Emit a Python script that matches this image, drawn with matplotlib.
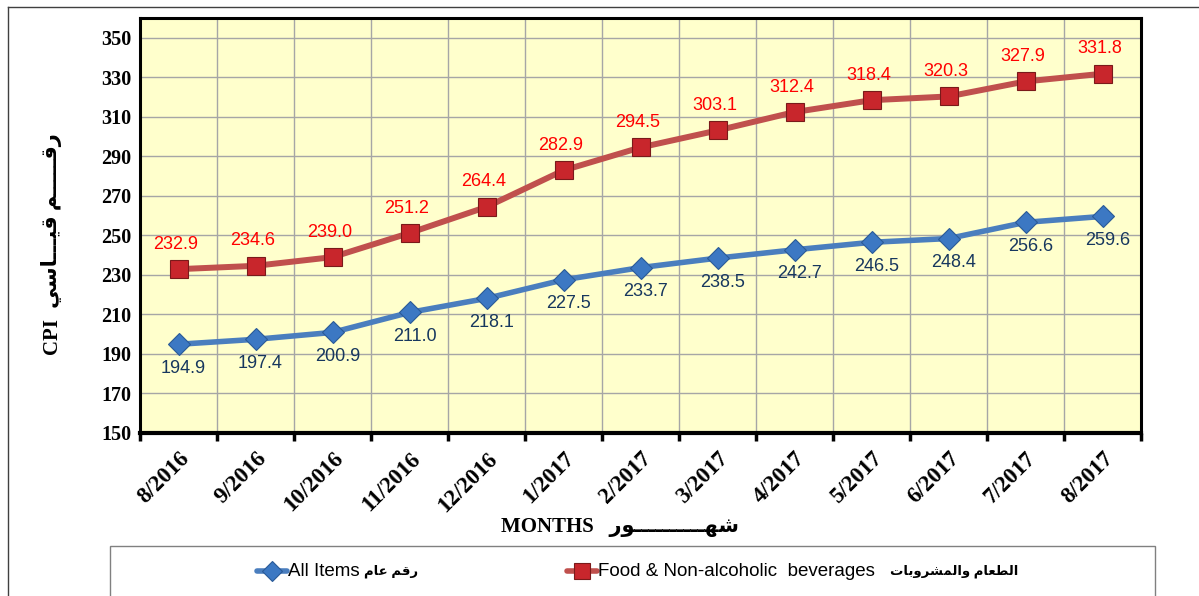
import matplotlib
matplotlib.use("Agg")
import matplotlib.pyplot as plt
from matplotlib.lines import Line2D
from matplotlib.patches import Rectangle
import numpy as np

# --- data ---
months = ["8/2016", "9/2016", "10/2016", "11/2016", "12/2016", "1/2017", "2/2017",
          "3/2017", "4/2017", "5/2017", "6/2017", "7/2017", "8/2017"]
all_items = [194.9, 197.4, 200.9, 211.0, 218.1, 227.5, 233.7, 238.5, 242.7, 246.5, 248.4, 256.6, 259.6]
food = [232.9, 234.6, 239.0, 251.2, 264.4, 282.9, 294.5, 303.1, 312.4, 318.4, 320.3, 327.9, 331.8]
y_ticks = list(range(150, 351, 20))

# Arabic written in presentation forms, visual (left-to-right) order
T = "\u0640"
ar_cpi = ("\uFEF2\uFEB3\uFE8E" + T * 3 + "\uFEF4\uFED7" + " "
          + "\uFEE2" + T * 5 + "\uFED7\uFEAD")                       # رقـــم قيـــاسي
ar_months = "\uFEAD\uFEEE" + T * 10 + "\uFEEC\uFEB7"                  # شهـــور
ar_all = "\uFEE1\uFE8E\uFECB \uFEE2\uFED7\uFEAD"                      # رقم عام
ar_food = ("\uFE95\uFE8E\uFE91\uFEED\uFEAE\uFEB8\uFEE4\uFEDF\uFE8D\uFEED" + " "
           + "\uFEE1\uFE8E\uFECC\uFEC4\uFEDF\uFE8D")                  # الطعام والمشروبات

SERIF = ["Liberation Serif", "DejaVu Sans"]
SANS = ["Liberation Sans", "DejaVu Sans"]

RED_LINE, RED_FACE, RED_EDGE = "#C0504D", "#C8262C", "#7A1A1A"
BLUE_LINE, BLUE_FACE, BLUE_EDGE = "#4A7EBE", "#3C78C3", "#2A5A97"

W, H = 1199, 596
fig = plt.figure(figsize=(W / 100, H / 100), dpi=100)
ax = fig.add_axes([140 / W, 1 - 433 / H, (1141 - 140) / W, (433 - 18) / H])
ax.set_facecolor("#FFFFCC")

x = np.arange(len(months))
ax.plot(x, food, color=RED_LINE, lw=4.3, marker="s", ms=12.5,
        mfc=RED_FACE, mec=RED_EDGE, mew=0.8, zorder=4)
ax.plot(x, all_items, color=BLUE_LINE, lw=4.0, marker="D", ms=11,
        mfc=BLUE_FACE, mec=BLUE_EDGE, mew=0.8, zorder=4)

for xi, v in zip(x, food):
    ax.annotate(f"{v:.1f}", (xi, v), xytext=(-3, 25), textcoords="offset pixels",
                ha="center", va="center", color="#FF0000", fontsize=13, family=SANS, zorder=5)
for xi, v in zip(x, all_items):
    ax.annotate(f"{v:.1f}", (xi, v), xytext=(5, -24), textcoords="offset pixels",
                ha="center", va="center", color="#17375E", fontsize=13, family=SANS, zorder=5)

ax.set_xlim(-0.5, len(months) - 0.5)
ax.set_ylim(150, 360)
ax.set_yticks(y_ticks)
ax.set_yticklabels([str(t) for t in y_ticks], family=SERIF, fontweight="bold", fontsize=14.5)
ax.tick_params(axis="y", length=0, pad=6)

ax.set_xticks(x)
ax.set_xticklabels(months, rotation=45, ha="right", rotation_mode="anchor",
                   family=SERIF, fontweight="bold", fontsize=16.5)
ax.tick_params(axis="x", which="major", length=0, pad=11)
ax.set_xticks(np.arange(-0.5, len(months), 1), minor=True)
ax.tick_params(axis="x", which="minor", length=6, width=2.5, direction="out", color="black")

for yv in y_ticks:
    ax.axhline(yv, color="#A6A6A6", lw=1, zorder=1)
for xb in np.arange(0.5, len(months) - 0.5, 1):
    ax.axvline(xb, color="#A6A6A6", lw=1, zorder=1)

for side in ("left", "top", "right"):
    ax.spines[side].set_linewidth(2.2)
    ax.spines[side].set_color("black")
ax.spines["bottom"].set_linewidth(3)
ax.spines["bottom"].set_color("black")

# axis titles
fig.text(52 / W, 1 - 336 / H, "CPI", rotation=90, ha="center", va="center",
         family=SERIF, fontweight="bold", fontsize=15)
fig.text(52 / W, 1 - 221 / H, ar_cpi, rotation=90, ha="center", va="center",
         family=SERIF, fontweight="bold", fontsize=15)
fig.text(620 / W, 1 - 527 / H, "MONTHS   " + ar_months, ha="center", va="center",
         family=SERIF, fontweight="bold", fontsize=15)

# outer frame lines
fig.add_artist(Line2D([8 / W, 8 / W], [0, 1 - 7 / H], color="#404040", lw=1))
fig.add_artist(Line2D([8 / W, 1], [1 - 7 / H, 1 - 7 / H], color="#404040", lw=1))
fig.add_artist(Rectangle((110 / W, -0.01), (1155 - 110) / W, 0.01 + (596 - 546) / H,
                         transform=fig.transFigure, fill=False, ec="#808080", lw=1))

# legend (drawn by hand so the Arabic part can be bold and compact)
ly = 1 - 571 / H
entries = [
    (257, BLUE_LINE, "D", 10, BLUE_FACE, BLUE_EDGE, "All Items", 364, ar_all),
    (567, RED_LINE, "s", 11, RED_FACE, RED_EDGE, "Food & Non\u2010alcoholic  beverages", 890, ar_food),
]
for x0, lc, mk, ms, fc, ec, label, ax0, ar in entries:
    fig.add_artist(Line2D([x0 / W, (x0 + 30) / W], [ly, ly], color=lc, lw=4,
                          solid_capstyle="round"))
    fig.add_artist(Line2D([(x0 + 15) / W], [ly], marker=mk, ms=ms, mfc=fc, mec=ec, mew=0.8))
    fig.text((x0 + 31) / W, ly, label, ha="left", va="center", family=SANS, fontsize=13.5)
    fig.text(ax0 / W, ly, ar, ha="left", va="center", family=SANS, fontweight="bold", fontsize=9.5)

fig.savefig("out.png", dpi=100)
